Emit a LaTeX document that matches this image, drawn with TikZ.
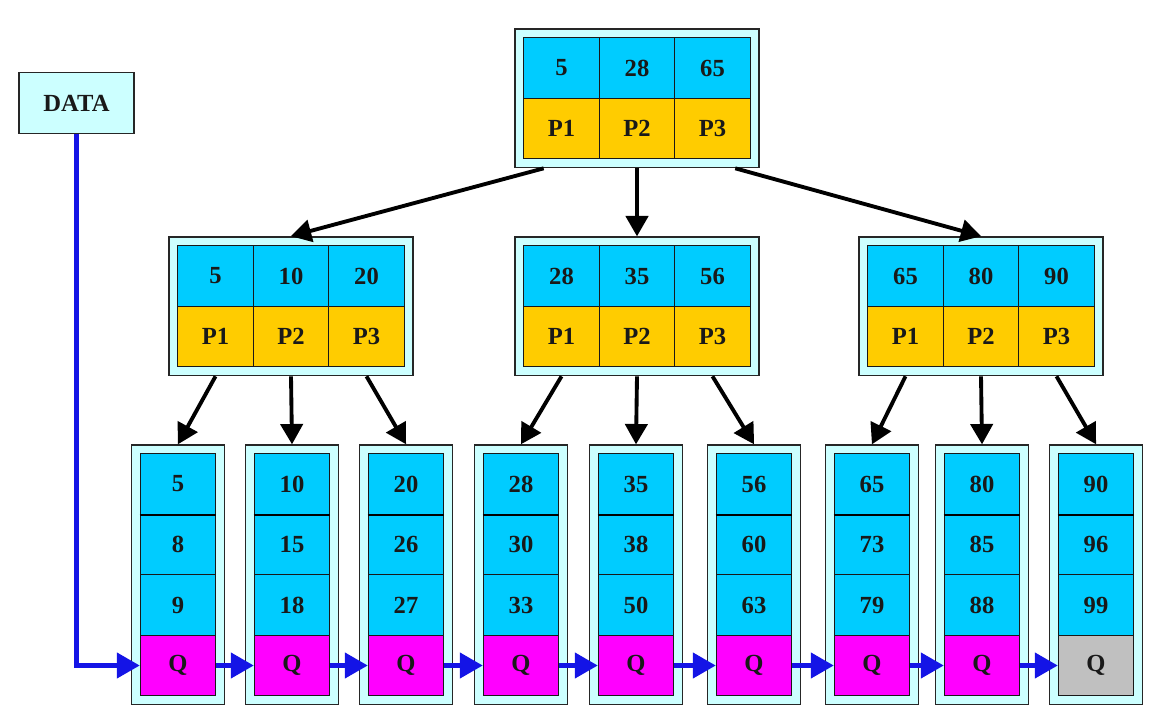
\documentclass[tikz,border=0pt]{standalone}
\usepackage{fontspec}
\setmainfont{Liberation Serif}
\usepackage{tikz}
\usetikzlibrary{calc}
\usetikzlibrary{arrows}
\usetikzlibrary{fit}
\usetikzlibrary{backgrounds}

\definecolor{keycol}{RGB}{0,204,255}
\definecolor{ptrcol}{RGB}{255,204,0}
\definecolor{nxtcol}{RGB}{255,0,255}
\definecolor{endcol}{RGB}{192,192,192}
\definecolor{boxcol}{RGB}{204,255,255}
\definecolor{linkcol}{RGB}{20,20,230}

\tikzset{
  cell/.style={draw=black!90, line width=0.8pt, minimum width=1.51cm, minimum height=1.21cm,
    inner sep=0pt, font=\fontsize{14}{16}\selectfont\bfseries, text=black!90},
  key/.style={cell, fill=keycol},
  ptr/.style={cell, fill=ptrcol},
  frame/.style={draw=black!85, line width=1pt, fill=boxcol, inner sep=0.16cm},
  down/.style={->, >=triangle 60, line width=2.2pt, black},
  link/.style={->, >=triangle 60, line width=2.6pt, linkcol},
}

\begin{document}
\begin{tikzpicture}[x=0.02cm, y=-0.02cm]
\useasboundingbox (0,0) rectangle (1166,716);

% root and second level
\foreach \n/\cx/\cy/\a/\b/\c in {r/637/68/5/28/65, a/291/276/5/10/20, b/637/276/28/35/56, c/981/276/65/80/90} {
  \node[key] (\n1) at (\cx-75.5,\cy) {\a};
  \node[key] (\n2) at (\cx,\cy) {\b};
  \node[key] (\n3) at (\cx+75.5,\cy) {\c};
  \node[ptr] (\n p1) at (\cx-75.5,\cy+60.5) {P1};
  \node[ptr] (\n p2) at (\cx,\cy+60.5) {P2};
  \node[ptr] (\n p3) at (\cx+75.5,\cy+60.5) {P3};
  \begin{scope}[on background layer]
    \node[frame, fit=(\n1)(\n p3)] (\n f) {};
  \end{scope}
}

% leaves
\foreach \i/\cx/\a/\b/\c/\qc in {1/178/5/8/9/nxtcol, 2/292/10/15/18/nxtcol, 3/406/20/26/27/nxtcol,
    4/521/28/30/33/nxtcol, 5/636/35/38/50/nxtcol, 6/754/56/60/63/nxtcol,
    7/872/65/73/79/nxtcol, 8/982/80/85/88/nxtcol, 9/1096/90/96/99/endcol} {
  \node[key] (l\i a) at (\cx,484) {\a};
  \node[key] (l\i b) at (\cx,544.5) {\b};
  \node[key] (l\i c) at (\cx,605) {\c};
  \node[cell, fill=\qc] (l\i q) at (\cx,665.5) {Q};
  \draw[line width=1.6pt] (l\i a.south west) -- (l\i a.south east);
  \begin{scope}[on background layer]
    \node[frame, fit=(l\i a)(l\i q)] (lf\i) {};
  \end{scope}
}

\node[cell, fill=boxcol, draw=black!85, minimum width=2.3cm] (data) at (76.5,103) {DATA};

\draw[down] ($(rf.south west)!0.12!(rf.south east)$) -- (af.north);
\draw[down] (rf.south) -- (bf.north);
\draw[down] ($(rf.south west)!0.9!(rf.south east)$) -- (cf.north);

\foreach \n/\i/\j/\k in {a/1/2/3, b/4/5/6, c/7/8/9} {
  \draw[down] (\n p1 |- \n f.south) -- (lf\i.north);
  \draw[down] (\n p2 |- \n f.south) -- (lf\j.north);
  \draw[down] (\n p3 |- \n f.south) -- (lf\k.north);
}

\draw[link] (data.south) |- (l1q.west);
\foreach \i/\j in {1/2, 2/3, 3/4, 4/5, 5/6, 6/7, 7/8, 8/9}
  \draw[link] (l\i q.east) -- (l\j q.west);

\end{tikzpicture}
\end{document}
